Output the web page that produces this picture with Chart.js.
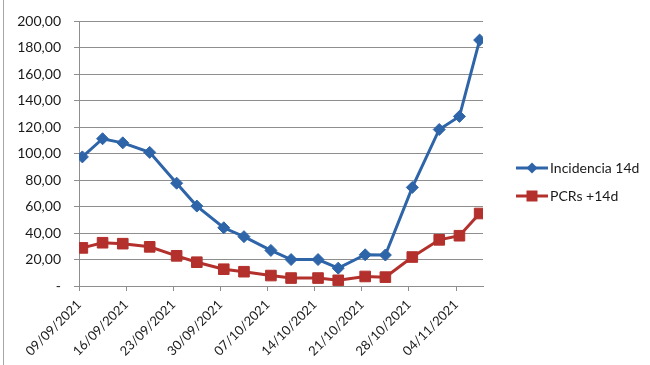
<!DOCTYPE html>
<html>
<head>
<meta charset="utf-8">
<script src="https://cdn.jsdelivr.net/npm/chart.js@4.4.1/dist/chart.umd.min.js"></script>
<style>
  html, body { margin: 0; padding: 0; background: #fff; }
  .wrap { position: relative; width: 650px; height: 365px; }
  .frame { position: absolute; left: 3px; top: 0; width: 1px; height: 365px; background: #a6a6a6; }
</style>
</head>
<body>
<div class="wrap">
  <canvas id="chart" width="650" height="365"></canvas>
  <div class="frame"></div>
</div>
<script>
      // data
      const dates = [
        "09/09/2021", "12/09/2021", "15/09/2021", "19/09/2021", "23/09/2021",
        "26/09/2021", "30/09/2021", "03/10/2021", "07/10/2021", "10/10/2021",
        "14/10/2021", "17/10/2021", "21/10/2021", "24/10/2021", "28/10/2021",
        "01/11/2021", "04/11/2021", "07/11/2021",
      ];
      const incidencia = [97.6, 111.3, 108.2, 101.0, 77.7, 60.4, 44.0, 37.3, 26.9, 20.0, 20.0, 13.5, 23.6, 23.4, 74.5, 118.3, 128.2, 185.9];
      const pcrs = [28.8, 32.7, 32.0, 29.6, 22.8, 18.0, 12.7, 10.8, 7.9, 6.0, 6.0, 4.3, 7.2, 6.7, 21.9, 34.9, 38.0, 54.8];
      const xTickLabels = [
        "09/09/2021", "16/09/2021", "23/09/2021", "30/09/2021", "07/10/2021",
        "14/10/2021", "21/10/2021", "28/10/2021", "04/11/2021",
      ];
      const seriesNames = ["Incidencia 14d", "PCRs +14d"];

      const BLUE = "#2e64a8";
      const RED = "#b3302c";
      const GRID = "#8e8e8e";
      const FONT = "Lato, 'Open Sans', sans-serif";

      // days since first date (Excel-like date axis, point sits mid-day)
      function toDay(s) {
        const [d, m, y] = s.split("/").map(Number);
        return Date.UTC(y, m - 1, d) / 86400000;
      }
      const day0 = toDay(dates[0]);
      const xs = dates.map((s) => toDay(s) - day0 + 0.5);
      const pts = (vals) => vals.map((v, i) => ({ x: xs[i], y: v }));

      // legend drawn on the right like the Excel one
      const sideLegend = {
        id: "sideLegend",
        afterDraw(chart) {
          const ctx = chart.ctx;
          const rows = [168, 196];
          ctx.save();
          chart.data.datasets.forEach((ds, i) => {
            const y = rows[i];
            const x0 = 516, x1 = 548;
            ctx.strokeStyle = ds.borderColor;
            ctx.lineWidth = 3;
            ctx.beginPath();
            ctx.moveTo(x0, y);
            ctx.lineTo(x1, y);
            ctx.stroke();
            ctx.fillStyle = ds.borderColor;
            const cx = (x0 + x1) / 2;
            ctx.beginPath();
            if (ds.pointStyle === "rectRot") {
              ctx.moveTo(cx - 5.5, y);
              ctx.lineTo(cx, y - 5.5);
              ctx.lineTo(cx + 5.5, y);
              ctx.lineTo(cx, y + 5.5);
              ctx.closePath();
            } else {
              ctx.rect(cx - 5.5, y - 5.5, 11, 11);
            }
            ctx.fill();
            ctx.fillStyle = "#1a1a1a";
            ctx.font = "14px " + FONT;
            ctx.textBaseline = "middle";
            ctx.fillText(ds.label, x1 + 2, y);
          });
          ctx.restore();
        },
      };

      const ctx = document.getElementById("chart").getContext("2d");

      new Chart(ctx, {
        type: "line",
        data: {
          datasets: [
            {
              label: seriesNames[0],
              data: pts(incidencia),
              borderColor: BLUE,
              backgroundColor: BLUE,
              borderWidth: 3,
              pointStyle: "rectRot",
              pointRadius: 6,
              pointBorderWidth: 1,
              tension: 0,
            },
            {
              label: seriesNames[1],
              data: pts(pcrs),
              borderColor: RED,
              backgroundColor: RED,
              borderWidth: 3,
              pointStyle: "rect",
              pointRadius: 7.5,
              pointBorderWidth: 1,
              tension: 0,
            },
          ],
        },
        options: {
          responsive: false,
          animation: false,
          layout: { padding: { left: 0, right: 167, top: 9, bottom: 0 } },
          plugins: {
            legend: { display: false },
            tooltip: { enabled: false },
          },
          scales: {
            x: {
              type: "linear",
              min: 0,
              max: 60,
              afterBuildTicks: (s) => {
                s.ticks = s.ticks.filter((t) => t.value % 7 === 0);
              },
              afterFit: (s) => {
                s.height = 79;
              },
              ticks: {
                stepSize: 7,
                autoSkip: false,
                minRotation: 45,
                maxRotation: 45,
                padding: 6,
                color: "#1a1a1a",
                font: { family: FONT, size: 13 },
                callback: (v) => xTickLabels[Math.round(v / 7)],
              },
              grid: {
                drawOnChartArea: false,
                drawTicks: true,
                tickLength: 5,
                color: GRID,
              },
              border: { color: GRID, width: 1 },
            },
            y: {
              min: 0,
              max: 200,
              afterFit: (s) => {
                s.width = 79;
              },
              ticks: {
                stepSize: 20,
                padding: 13,
                color: "#1a1a1a",
                font: { family: FONT, size: 14 },
                callback: (v) => (v === 0 ? "-" : v.toFixed(2).replace(".", ",")),
              },
              grid: {
                color: GRID,
                lineWidth: 1,
                tickLength: 5,
              },
              border: { color: GRID, width: 1 },
            },
          },
        },
        plugins: [sideLegend],
      });
</script>
</body>
</html>
